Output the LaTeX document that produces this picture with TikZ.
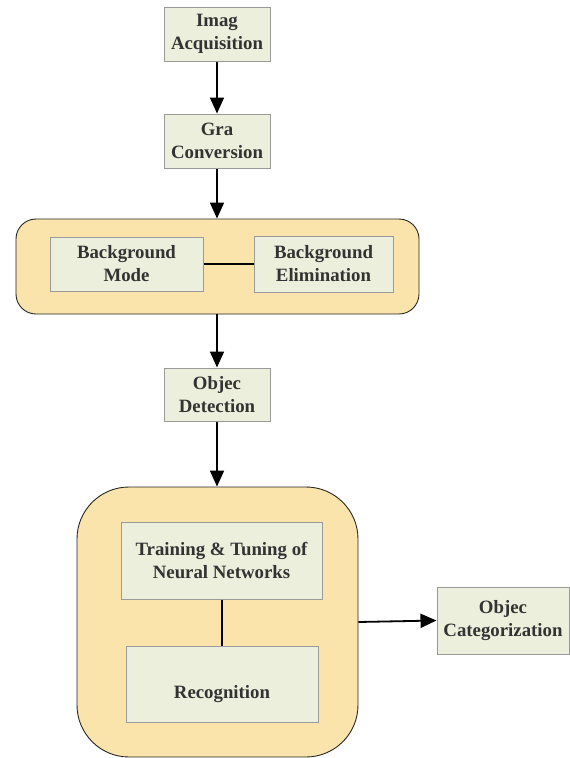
\documentclass[tikz,border=0pt]{standalone}
\usepackage{fontspec}
\setmainfont{Liberation Serif}
\usetikzlibrary{arrows.meta}
\definecolor{boxfill}{HTML}{EBEFDC}
\definecolor{boxline}{HTML}{9A9A9A}
\definecolor{contfill}{HTML}{FBE4AC}
\definecolor{txt}{HTML}{333333}
\tikzset{
  boxtext/.style={font=\fontsize{18.8}{23}\selectfont\bfseries, text=txt, align=center, inner sep=2pt},
  box/.style={boxtext, draw=boxline, fill=boxfill, line width=1pt},
  cont/.style={draw=black!85, fill=contfill, line width=0.9pt},
  flow/.style={line width=1.8pt, -{Triangle[length=16pt,width=14pt]}},
  link/.style={line width=1.8pt}
}
\begin{document}
\begin{tikzpicture}[x=1pt,y=1pt]
\useasboundingbox (0,0) rectangle (570,-758);
% containers
\node[cont, rounded corners=20pt, minimum width=403pt, minimum height=95pt, inner sep=0pt] (c1) at (217.5,-266.5) {};
\node[cont, rounded corners=52pt, minimum width=281pt, minimum height=270pt, inner sep=0pt] (c2) at (217.5,-622) {};
% boxes
\node[box, minimum width=106pt, minimum height=54pt] (ia) at (217,-34) {Imag\\Acquisition};
\node[box, minimum width=106pt, minimum height=54pt] (gc) at (217,-141) {Gra\\Conversion};
\node[box, minimum width=153pt, minimum height=54pt] (bm) at (126.5,-264) {Background\\Mode};
\node[box, minimum width=139pt, minimum height=56pt] (be) at (323.5,-264) {Background\\Elimination};
\node[box, minimum width=106pt, minimum height=53pt] (od) at (217,-394.5) {Objec\\Detection};
\node[box, minimum width=201pt, minimum height=77pt] (tn) at (221.5,-560.5) {Training \& Tuning of\\Neural Networks};
\node[box, minimum width=192pt, minimum height=76pt] (rc) at (222,-684) {};
\node[boxtext] (rct) at (222,-694) {Recognition};
\node[box, minimum width=132pt, minimum height=67pt] (oc) at (503,-620.5) {Objec\\Categorization};
% connectors
\draw[flow] (ia.south) -- (gc.north);
\draw[flow] (gc.south) -- (gc.south |- c1.north);
\draw[flow] (od.north |- c1.south) -- (od.north);
\draw[flow] (od.south) -- (od.south |- c2.north);
\draw[link] (bm.east) -- (be.west);
\draw[link] (tn.south -| rc.north) -- (rc.north);
\draw[flow] (c2.east) -- (oc.west);
\end{tikzpicture}
\end{document}
